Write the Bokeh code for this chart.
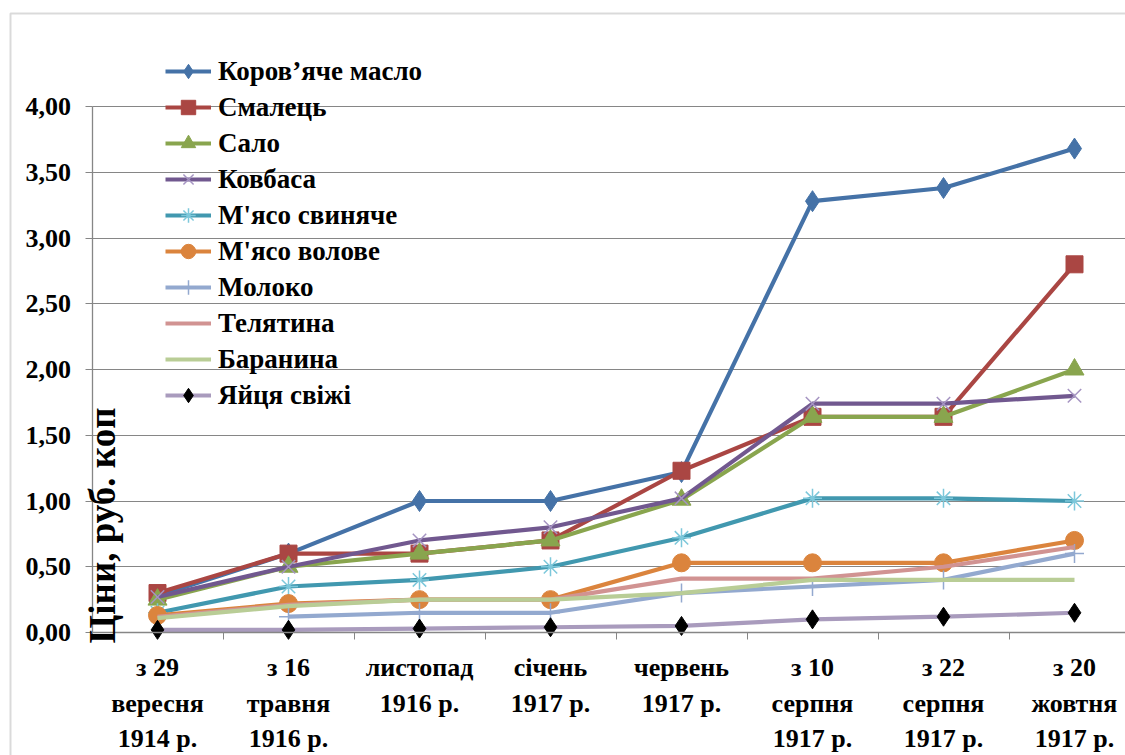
import math
from bokeh.plotting import figure
from bokeh.models import (FixedTicker, Legend, LegendItem, LabelSet, Label,
                          ColumnDataSource, BoxAnnotation, Range1d)
from bokeh.embed import file_html
from bokeh.resources import INLINE
from bokeh.core.properties import value

nan = float("nan")

# ---- data ----
categories = [0, 1, 2, 3, 4, 5, 6, 7]
label_row1 = ["з 29", "з 16", "листопад", "січень", "червень", "з 10", "з 22", "з 20"]
label_row2 = ["вересня", "травня", "1916 р.", "1917 р.", "1917 р.", "серпня", "серпня", "жовтня"]
label_row3 = ["1914 р.", "1916 р.", "", "", "", "1917 р.", "1917 р.", "1917 р."]

series_names = ["Коров’яче масло", "Смалець", "Сало", "Ковбаса", "М'ясо свиняче",
                "М'ясо волове", "Молоко", "Телятина", "Баранина", "Яйця свіжі"]
maslo     = [0.28, 0.60, 1.00, 1.00, 1.22, 3.28, 3.38, 3.68]
smalets   = [0.30, 0.60, 0.60, 0.70, 1.23, 1.64, 1.64, 2.80]
salo      = [0.25, 0.50, 0.60, 0.70, 1.01, 1.64, 1.64, 2.00]
kovbasa   = [0.27, 0.50, 0.70, 0.80, 1.02, 1.74, 1.74, 1.80]
svynyache = [0.15, 0.35, 0.40, 0.50, 0.72, 1.02, 1.02, 1.00]
volove    = [0.13, 0.22, 0.25, 0.25, 0.53, 0.53, 0.53, 0.70]
moloko    = [nan, 0.12, 0.15, 0.15, 0.30, 0.35, 0.40, 0.60]
telyatyna = [0.12, 0.21, 0.25, 0.25, 0.41, 0.41, 0.50, 0.65]
baranyna  = [0.11, 0.20, 0.25, 0.25, 0.30, 0.40, 0.40, 0.40]
yaytsya   = [0.02, 0.02, 0.03, 0.04, 0.05, 0.10, 0.12, 0.15]

y_ticks = [0.0, 0.5, 1.0, 1.5, 2.0, 2.5, 3.0, 3.5, 4.0]
y_tick_labels = ["0,00", "0,50", "1,00", "1,50", "2,00", "2,50", "3,00", "3,50", "4,00"]
y_title = "Ціни, руб. коп"

all_series = [maslo, smalets, salo, kovbasa, svynyache, volove, moloko, telyatyna, baranyna, yaytsya]

# ---- styles: line color, marker, marker fill, marker line, size ----
styles = [
    ("#4572A7", "diamond", "#4572A7", "#4572A7", 21),
    ("#AA4643", "square", "#AA4643", "#AA4643", 17),
    ("#89A54E", "triangle", "#89A54E", "#89A54E", 19),
    ("#71588F", "x", None, "#A594C2", 19),
    ("#4198AF", "asterisk", None, "#7DC8DB", 19),
    ("#DB843D", "circle", "#DB843D", "#DB843D", 18),
    ("#93A9CF", "cross", None, "#93A9CF", 19),
    ("#D19392", None, None, None, 0),
    ("#B9CD96", None, None, None, 0),
    ("#A99BBD", "diamond", "black", "black", 19),
]

FONT = "Liberation Serif"
GRAY = "#868686"

# ---- layout (pixels) ----
W, H = 1125, 755
X0_PX, DX_PX = 157.0, 131.0      # first category centre, category spacing
Y0_PX, DY_PX = 632.0, 131.5      # y=0 pixel row, pixels per unit

p = figure(width=W, height=H, output_backend="svg", toolbar_location=None,
           x_range=Range1d(-X0_PX / DX_PX, (W - X0_PX) / DX_PX),
           y_range=Range1d(-(H - Y0_PX) / DY_PX, Y0_PX / DY_PX),
           min_border_left=0, min_border_top=0, min_border_bottom=0,
           min_border_right=0)
p.outline_line_color = None
p.background_fill_color = "white"
p.border_fill_color = "white"

x_lo = categories[0] - 0.5
x_bounds = [c - 0.5 for c in categories] + [categories[-1] + 0.5]

# y axis inside the frame
p.yaxis.fixed_location = x_lo
p.yaxis.bounds = (y_ticks[0], y_ticks[-1])
p.yaxis.ticker = FixedTicker(ticks=y_ticks)
p.yaxis.major_label_overrides = {t: l for t, l in zip(y_ticks, y_tick_labels)}
p.yaxis.major_label_text_font = FONT
p.yaxis.major_label_text_font_style = "bold"
p.yaxis.major_label_text_font_size = "26px"
p.yaxis.major_label_text_color = "black"
p.yaxis.axis_line_color = GRAY
p.yaxis.axis_line_width = 1.3
p.yaxis.major_tick_line_color = GRAY
p.yaxis.major_tick_out = 7
p.yaxis.major_tick_in = 0
p.yaxis.minor_tick_line_color = None
p.yaxis.major_label_standoff = 14

# x axis inside the frame: ticks at category boundaries
p.xaxis.fixed_location = y_ticks[0]
p.xaxis.bounds = (x_bounds[0], x_bounds[-1])
p.xaxis.ticker = FixedTicker(ticks=x_bounds)
p.xaxis.major_label_overrides = {t: "" for t in x_bounds}
p.xaxis.axis_line_color = GRAY
p.xaxis.axis_line_width = 1.3
p.xaxis.major_tick_line_color = GRAY
p.xaxis.major_tick_out = 7
p.xaxis.major_tick_in = 0
p.xaxis.minor_tick_line_color = None

p.xgrid.visible = False
yg = p.ygrid[0]
if "cross_bounds" in yg.properties():
    yg.ticker = FixedTicker(ticks=y_ticks[1:])
    yg.cross_bounds = (x_lo, x_bounds[-1])
    yg.grid_line_color = GRAY
    yg.grid_line_width = 1.2
else:
    yg.visible = False
    gy = y_ticks[1:]
    p.segment(x0=[x_lo] * len(gy), y0=gy, x1=[x_bounds[-1]] * len(gy), y1=gy,
              line_color=GRAY, line_width=1.2, level="underlay")

items = []
for name, ys, (lc, mk, mf, ml, ms) in zip(series_names, all_series, styles):
    rs = [p.line(categories, ys, line_color=lc, line_width=4.2)]
    if mk is not None:
        rs.append(p.scatter(categories, ys, marker=mk, size=ms,
                            fill_color=mf, line_color=ml,
                            line_width=1.5 if mf is None else 1))
    items.append(LegendItem(label=name, renderers=rs))

legend = Legend(items=items, location=(165, 342),
                label_text_font=FONT, label_text_font_style="bold",
                label_text_font_size="27px", label_text_color="black",
                glyph_width=46, glyph_height=36, label_height=36,
                spacing=0, padding=0, margin=0, label_standoff=7,
                border_line_color=None, background_fill_alpha=0)
p.add_layout(legend)

# category labels (three rows)
src = ColumnDataSource(dict(x=categories, r1=label_row1, r2=label_row2, r3=label_row3))
for col, yoff in (("r1", H - 667), ("r2", H - 703), ("r3", H - 738)):
    p.add_layout(LabelSet(x="x", y=yoff, y_units="screen", text=col, source=src,
                          text_font=value(FONT), text_font_style="bold",
                          text_font_size="26px", text_color="black",
                          text_align="center", text_baseline="middle"))

# y axis title
p.add_layout(Label(x=102, y=H - 525, x_units="screen", y_units="screen", text=y_title,
                   angle=math.pi / 2, text_font=FONT, text_font_style="bold",
                   text_font_size="37px", text_color="black",
                   text_align="center", text_baseline="middle"))

# outer chart border (left & top visible)
p.add_layout(BoxAnnotation(left=10, right=3000, top=H - 13, bottom=-3000,
                           left_units="screen", right_units="screen",
                           top_units="screen", bottom_units="screen",
                           fill_alpha=0, line_color=GRAY, line_width=2))

open("out.html", "w").write(file_html(p, INLINE))
